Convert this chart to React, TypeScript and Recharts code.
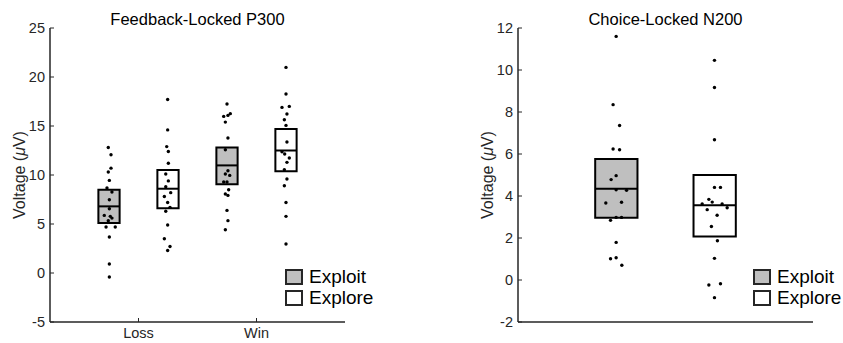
import React from 'react';
import { ComposedChart, Scatter, XAxis, YAxis, ReferenceArea, ReferenceLine, Legend } from 'recharts';

// Feedback-locked P300 (uV), one dot per subject, x jitter in axis units
const p300Categories = ['Loss', 'Win'];
const p300LossExploit = [12.8, 12.07, 10.7, 10.3, 9.45, 8.67, 8.26, 7.48, 6.56, 5.88, 5.78, 5.6, 5.34, 4.69, 4.69, 3.67, 0.92, -0.41];
const p300LossExploitJitter = [-0.006, 0.017, 0.017, -0.006, 0.003, -0.017, 0.025, 0.003, 0.003, -0.04, 0.011, 0.025, -0.006, -0.025, 0.053, 0.003, 0.003, 0.003];
const p300LossExplore = [17.7, 14.6, 12.9, 12.4, 11.2, 10.1, 9.4, 8.8, 8.2, 7.8, 7.2, 6.7, 6.3, 4.9, 3.5, 2.7, 2.3];
const p300LossExploreJitter = [-0.003, -0.003, -0.011, 0.003, 0.003, -0.019, 0.003, -0.019, 0.023, -0.031, -0.003, 0.017, -0.019, -0.003, -0.031, 0.017, -0.003];
const p300WinExploit = [17.24, 16.26, 16.08, 15.98, 15.4, 13.78, 12.58, 10.44, 10.1, 9.96, 9.29, 9.29, 8.5, 8.06, 7.92, 6.39, 5.34, 4.42];
const p300WinExploitJitter = [0, 0.028, 0.008, -0.028, -0.014, 0.008, -0.014, 0.008, -0.014, 0.023, -0.028, 0, 0.014, -0.014, 0.008, 0, 0.008, -0.014];
const p300WinExplore = [20.98, 18.27, 17.0, 16.9, 16.22, 15.64, 15.06, 13.37, 12.38, 12.14, 11.73, 11.29, 10.54, 9.59, 8.9, 7.2, 5.78, 2.96];
const p300WinExploreJitter = [0, 0, 0.028, -0.034, 0.008, -0.014, 0, 0.008, -0.034, -0.011, 0.028, 0.008, -0.014, 0.008, -0.014, 0, 0, 0];
// box stats per category (Loss, Win)
const p300ExploitQ1 = [5.1, 9.05];
const p300ExploitMedian = [6.8, 10.98];
const p300ExploitQ3 = [8.5, 12.8];
const p300ExploreQ1 = [6.6, 10.37];
const p300ExploreMedian = [8.6, 12.5];
const p300ExploreQ3 = [10.5, 14.7];
const p300Ticks = [-5, 0, 5, 10, 15, 20, 25];

// Choice-locked N200 (uV)
const n200Exploit = [11.6, 8.35, 7.36, 6.24, 6.2, 4.97, 4.78, 4.3, 4.27, 3.67, 3.7, 2.98, 2.98, 2.84, 1.79, 1.01, 1.06, 0.7];
const n200ExploitJitter = [-0.002, -0.033, 0.033, -0.033, 0.033, -0.002, -0.053, -0.002, 0.104, -0.107, 0.053, -0.002, 0.053, -0.059, -0.002, -0.059, -0.002, 0.056];
const n200Explore = [10.46, 9.17, 6.68, 4.41, 4.41, 3.84, 3.71, 3.62, 3.62, 3.44, 3.35, 3.08, 2.55, 1.87, 1.03, -0.24, -0.18, -0.84];
const n200ExploreJitter = [-0.002, -0.002, -0.002, -0.002, 0.059, -0.059, -0.025, -0.127, 0.076, 0.127, -0.076, 0.025, -0.033, 0.028, -0.002, -0.059, 0.059, -0.002];
// [exploit, explore]
const n200Q1 = [2.97, 2.07];
const n200Median = [4.35, 3.56];
const n200Q3 = [5.76, 5.0];
const n200Ticks = [-2, 0, 2, 4, 6, 8, 10, 12];

const FONT = '"Liberation Sans", Arial, Helvetica, sans-serif';
const AXIS = '#262626';
const EXPLOIT_FILL = '#bfbfbf';
const EXPLORE_FILL = '#ffffff';

const legendItems = [
  { name: 'Exploit', fill: EXPLOIT_FILL },
  { name: 'Explore', fill: EXPLORE_FILL },
];

type Group = {
  pos: number;
  q1: number;
  med: number;
  q3: number;
  fill: string;
  values: number[];
  jitter: number[];
};

const Dot = (props: any) => <circle cx={props.cx} cy={props.cy} r={1.7} fill="#000" />;

const YTick = (props: any) => {
  const { x, y, payload } = props;
  return (
    <g>
      <line x1={x} x2={x + 4} y1={y} y2={y} stroke={AXIS} strokeWidth={1} />
      <text x={x - 5} y={y} dy="0.36em" textAnchor="end" fontSize={14.5} fontFamily={FONT} fill={AXIS}>
        {payload.value}
      </text>
    </g>
  );
};

const makeXTick = (labels: string[]) => (props: any) => {
  const { x, y, payload } = props;
  return (
    <g>
      <line x1={x} x2={x} y1={y} y2={y - 4} stroke={AXIS} strokeWidth={1} />
      <text x={x} y={y + 6} dy="0.71em" textAnchor="middle" fontSize={14.5} fontFamily={FONT} fill={AXIS}>
        {labels[payload.value - 1]}
      </text>
    </g>
  );
};

const makeYLabel = (labelX: number) => (props: any) => {
  const vb = props.viewBox;
  const cy = vb.y + vb.height / 2;
  return (
    <text
      transform={`translate(${labelX},${cy}) rotate(-90)`}
      textAnchor="middle"
      dy="0.35em"
      fontSize={16}
      fontFamily={FONT}
      fill={AXIS}
    >
      Voltage (<tspan fontStyle="italic">μ</tspan>V)
    </text>
  );
};

const LegendBox = () => (
  <div style={{ fontFamily: FONT, fontSize: 19, color: '#000' }}>
    {legendItems.map((item) => (
      <div key={item.name} style={{ display: 'flex', alignItems: 'center', height: 21, lineHeight: '21px' }}>
        <span
          style={{
            display: 'inline-block',
            width: 14,
            height: 12,
            border: `2px solid ${AXIS}`,
            background: item.fill,
            marginRight: 6,
          }}
        />
        {item.name}
      </div>
    ))}
  </div>
);

interface PanelProps {
  title: string;
  width: number;
  yAxisWidth: number;
  marginRight: number;
  xDomain: [number, number];
  xTicks: number[];
  xLabels: string[] | null;
  yDomain: [number, number];
  yTicks: number[];
  groups: Group[];
  halfWidth: number;
  labelX: number;
  legendLeft: number;
}

function Panel(p: PanelProps) {
  const height = 343;
  const top = 28;
  const plotLeft = p.yAxisWidth;
  const plotWidth = p.width - p.yAxisWidth - p.marginRight;
  return (
    <div style={{ position: 'relative', width: p.width, height }}>
      <div
        style={{
          position: 'absolute',
          left: plotLeft,
          width: plotWidth,
          top: 11,
          textAlign: 'center',
          fontFamily: FONT,
          fontSize: 16.5,
          lineHeight: '16.5px',
          color: '#000',
          zIndex: 2,
        }}
      >
        {p.title}
      </div>
      <ComposedChart width={p.width} height={height} margin={{ top, right: p.marginRight, bottom: 0, left: 0 }}>
        <XAxis
          type="number"
          dataKey="x"
          domain={p.xDomain}
          ticks={p.xTicks}
          allowDataOverflow
          height={21}
          stroke={AXIS}
          strokeWidth={1.5}
          tickSize={0}
          tickMargin={0}
          tickLine={false}
          tick={p.xLabels ? makeXTick(p.xLabels) : false}
        />
        <YAxis
          type="number"
          dataKey="y"
          domain={p.yDomain}
          ticks={p.yTicks}
          allowDataOverflow
          width={p.yAxisWidth}
          stroke={AXIS}
          strokeWidth={1.5}
          tickSize={0}
          tickMargin={0}
          tickLine={false}
          tick={YTick}
          label={{ content: makeYLabel(p.labelX) }}
        />
        {p.groups.map((g, i) => (
          <ReferenceArea
            key={`box-${i}`}
            x1={g.pos - p.halfWidth}
            x2={g.pos + p.halfWidth}
            y1={g.q1}
            y2={g.q3}
            fill={g.fill}
            fillOpacity={1}
            stroke="#000"
            strokeWidth={2}
            ifOverflow="visible"
          />
        ))}
        {p.groups.map((g, i) => (
          <ReferenceLine
            key={`med-${i}`}
            segment={[
              { x: g.pos - p.halfWidth, y: g.med },
              { x: g.pos + p.halfWidth, y: g.med },
            ]}
            stroke="#000"
            strokeWidth={2}
            ifOverflow="visible"
          />
        ))}
        {p.groups.map((g, i) => (
          <Scatter
            key={`pts-${i}`}
            data={g.values.map((v, j) => ({ x: g.pos + g.jitter[j], y: v }))}
            shape={Dot}
            isAnimationActive={false}
          />
        ))}
        <Legend
          layout="horizontal"
          verticalAlign="middle"
          align="center"
          content={() => <LegendBox />}
          wrapperStyle={{ left: p.legendLeft, top: 266, width: 'auto', height: 'auto' }}
        />
      </ComposedChart>
    </div>
  );
}

const p300Groups: Group[] = [];
p300Categories.forEach((_, c) => {
  p300Groups.push({
    pos: c + 1 - 0.25,
    q1: p300ExploitQ1[c],
    med: p300ExploitMedian[c],
    q3: p300ExploitQ3[c],
    fill: EXPLOIT_FILL,
    values: c === 0 ? p300LossExploit : p300WinExploit,
    jitter: c === 0 ? p300LossExploitJitter : p300WinExploitJitter,
  });
  p300Groups.push({
    pos: c + 1 + 0.25,
    q1: p300ExploreQ1[c],
    med: p300ExploreMedian[c],
    q3: p300ExploreQ3[c],
    fill: EXPLORE_FILL,
    values: c === 0 ? p300LossExplore : p300WinExplore,
    jitter: c === 0 ? p300LossExploreJitter : p300WinExploreJitter,
  });
});

const n200Groups: Group[] = [
  { pos: 1, q1: n200Q1[0], med: n200Median[0], q3: n200Q3[0], fill: EXPLOIT_FILL, values: n200Exploit, jitter: n200ExploitJitter },
  { pos: 2, q1: n200Q1[1], med: n200Median[1], q3: n200Q3[1], fill: EXPLORE_FILL, values: n200Explore, jitter: n200ExploreJitter },
];

export default function App() {
  return (
    <div style={{ position: 'absolute', left: 0, top: 0, width: 843, height: 343, background: '#fff', display: 'flex' }}>
      <Panel
        title="Feedback-Locked P300"
        width={420}
        yAxisWidth={50}
        marginRight={75}
        xDomain={[0.25, 2.75]}
        xTicks={[1, 2]}
        xLabels={p300Categories}
        yDomain={[-5, 25]}
        yTicks={p300Ticks}
        groups={p300Groups}
        halfWidth={0.09}
        labelX={19}
        legendLeft={285}
      />
      <Panel
        title="Choice-Locked N200"
        width={423}
        yAxisWidth={98}
        marginRight={30}
        xDomain={[0, 3]}
        xTicks={[]}
        xLabels={null}
        yDomain={[-2, 12]}
        yTicks={n200Ticks}
        groups={n200Groups}
        halfWidth={0.215}
        labelX={67}
        legendLeft={333}
      />
    </div>
  );
}
